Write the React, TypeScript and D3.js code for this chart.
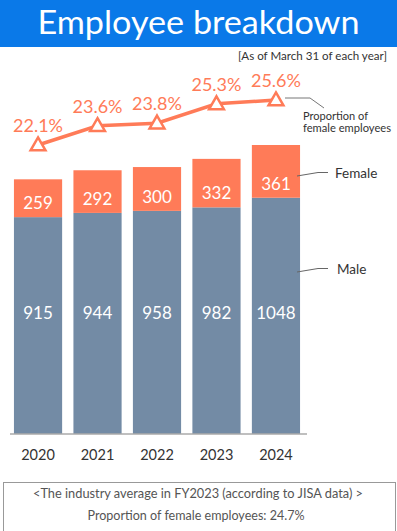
import React from "react";
import * as d3 from "d3";

const years = ["2020", "2021", "2022", "2023", "2024"];
const male = [915, 944, 958, 982, 1048];
const female = [259, 292, 300, 332, 361];
const femaleRatio = [22.1, 23.6, 23.8, 25.3, 25.6];

const W = 397;
const H = 531;
const ORANGE = "#FF7B58";
const MALE_C = "#738BA5";
const BLUE = "#0A79E8";
const FONT = "Lato, 'Noto Sans', sans-serif";

export default function App() {
  const x = d3.scaleBand<string>().domain(years).range([8, 306]).paddingInner(0.19).paddingOuter(0.1);
  const y = d3.scaleLinear().domain([-570, 1409]).range([434, 145]);
  const yp = d3.scaleLinear().domain([22.1, 25.6]).range([145, 100]);
  const cx = (yr: string) => (x(yr) as number) + x.bandwidth() / 2;

  const line = d3
    .line<number>()
    .x((_, i) => cx(years[i]))
    .y((d) => yp(d));

  const tri = d3.symbol().type(d3.symbolTriangle).size(95);

  const baseY = 434;

  return (
    <svg width={W} height={H} style={{ position: "fixed", left: 0, top: 0 }} fontFamily={FONT}>
      <rect x={0} y={0} width={W} height={H} fill="#fff" />
      <rect x={0} y={0} width={W} height={47} fill={BLUE} />
      <text x={W / 2} y={34} textAnchor="middle" fill="#fff" fontSize={33} textLength={322} lengthAdjust="spacingAndGlyphs">
        Employee breakdown
      </text>
      <text x={387} y={60} textAnchor="end" fill="#333" fontSize={12} textLength={149} lengthAdjust="spacingAndGlyphs">
        [As of March 31 of each year]
      </text>

      {years.map((yr, i) => {
        const bx = x(yr) as number;
        const bw = x.bandwidth();
        const mTop = y(male[i]);
        const fTop = y(male[i] + female[i]);
        return (
          <g key={yr}>
            <rect x={bx} y={mTop} width={bw} height={baseY - mTop} fill={MALE_C} />
            <rect x={bx} y={fTop} width={bw} height={mTop - fTop} fill={ORANGE} />
            <text x={cx(yr)} y={mTop - 8} textAnchor="middle" fill="#fff" fontSize={17}>
              {female[i]}
            </text>
            <text x={cx(yr)} y={318.5} textAnchor="middle" fill="#fff" fontSize={17}>
              {male[i]}
            </text>
            <text x={cx(yr)} y={460} textAnchor="middle" fill="#333" fontSize={14.5}>
              {yr}
            </text>
          </g>
        );
      })}

      <line x1={10} x2={307} y1={baseY} y2={baseY} stroke="#aaa" strokeWidth={1.5} />

      <path d={line(femaleRatio) || ""} fill="none" stroke={ORANGE} strokeWidth={3.5} />
      {femaleRatio.map((p, i) => (
        <g key={i}>
          <path
            d={tri() || ""}
            transform={`translate(${cx(years[i])},${yp(p) + 1})`}
            fill="#fff"
            stroke={ORANGE}
            strokeWidth={2.5}
          />
          <text x={cx(years[i])} y={yp(p) - 13} textAnchor="middle" fill={ORANGE} fontSize={18}>
            {p.toFixed(1)}%
          </text>
        </g>
      ))}

      {/* annotations */}
      <polyline points="285,98 310,98 324,108" fill="none" stroke="#777" strokeWidth={1} />
      <text x={303} y={120} fill="#333" fontSize={11.5} textLength={65} lengthAdjust="spacingAndGlyphs">Proportion of</text>
      <text x={303} y={131.5} fill="#333" fontSize={11.5} textLength={88} lengthAdjust="spacingAndGlyphs">female employees</text>

      <polyline points="297,176 318,172.5 328,172.5" fill="none" stroke="#666" strokeWidth={1} />
      <text x={335} y={178} fill="#333" fontSize={13.5}>Female</text>

      <polyline points="297,272 318,268.5 328,268.5" fill="none" stroke="#666" strokeWidth={1} />
      <text x={337} y={274} fill="#333" fontSize={13.5}>Male</text>

      <rect x={3.5} y={482.5} width={392} height={50} fill="none" stroke="#999" strokeWidth={1} />
      <text x={198} y={498} textAnchor="middle" fill="#555" fontSize={12.5} textLength={330} lengthAdjust="spacingAndGlyphs">
        {"<The industry average in FY2023 (according to JISA data) >"}
      </text>
      <text x={196} y={520} textAnchor="middle" fill="#555" fontSize={12.5} textLength={217} lengthAdjust="spacingAndGlyphs">
        Proportion of female employees: 24.7%
      </text>
    </svg>
  );
}
